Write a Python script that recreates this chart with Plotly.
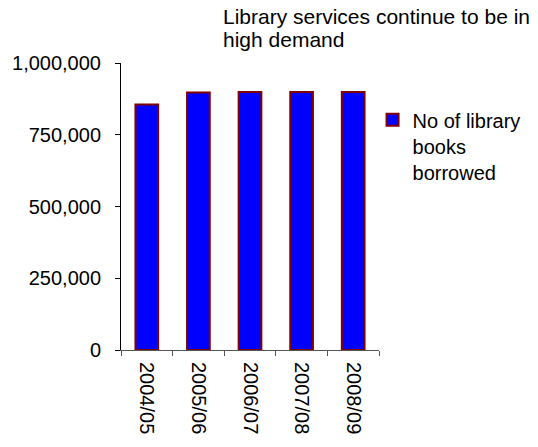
import plotly.graph_objects as go

# Annual library lending
years = ["2004/05", "2005/06", "2006/07", "2007/08", "2008/09"]
books_borrowed = [855000, 897000, 899000, 899000, 899000]
y_ticks = [0, 250000, 500000, 750000, 1000000]
title_lines = ["Library services continue to be in", "high demand"]

FONT = "Liberation Sans, Arial, sans-serif"
PLOT_TOP, PLOT_BOTTOM = 63, 350

fig = go.Figure()
fig.add_trace(go.Bar(
    x=years,
    y=books_borrowed,
    name="No of library<br>books<br>borrowed",
    marker=dict(color="#0000FF", line=dict(color="#800000", width=2)),
    width=0.44,
))

# Two-line heading placed above the plot, top-right of the frame
for i, line in enumerate(title_lines):
    y_px = 16 + 23 * i
    fig.add_annotation(
        text=line,
        xref="paper",
        yref="paper",
        x=(224 - 118) / 274,
        y=(PLOT_BOTTOM - y_px) / (PLOT_BOTTOM - PLOT_TOP),
        xanchor="left",
        yanchor="middle",
        showarrow=False,
        font=dict(family=FONT, size=21, color="black"),
    )

fig.update_layout(
    width=538,
    height=447,
    margin=dict(l=118, r=146, t=PLOT_TOP, b=447 - PLOT_BOTTOM),
    paper_bgcolor="white",
    plot_bgcolor="white",
    font=dict(family=FONT, size=20, color="black"),
    showlegend=True,
    legend=dict(
        x=0.975,
        y=0.87,
        xanchor="left",
        yanchor="top",
        valign="top",
        bgcolor="rgba(0,0,0,0)",
        font=dict(family=FONT, size=20),
    ),
)

fig.update_xaxes(
    type="category",
    tickangle=90,
    ticks="outside",
    tickson="boundaries",
    ticklen=5,
    tickcolor="#555555",
    ticklabelstandoff=7,
    showline=True,
    linecolor="#555555",
    linewidth=1,
    showgrid=False,
    tickfont=dict(family=FONT, size=20),
)

fig.update_yaxes(
    range=[0, 1000000],
    tickvals=y_ticks,
    tickformat=",",
    ticks="outside",
    ticklen=5,
    tickcolor="black",
    ticklabelstandoff=10,
    showline=True,
    linecolor="black",
    linewidth=1,
    showgrid=False,
    zeroline=False,
    tickfont=dict(family=FONT, size=20),
)

fig.write_html("out.html")
